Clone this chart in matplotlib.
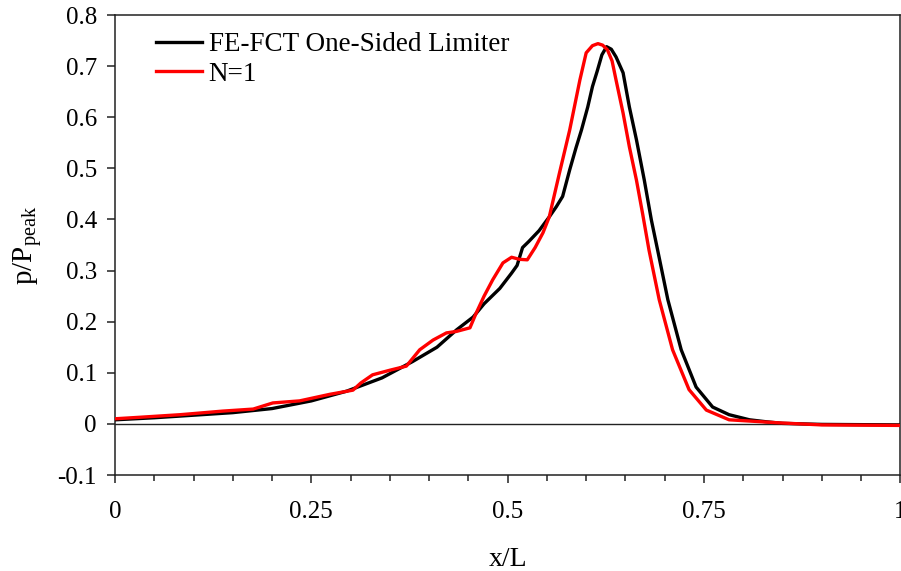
import matplotlib
matplotlib.use("Agg")
import matplotlib.pyplot as plt
from matplotlib.ticker import MultipleLocator

# ---- data ----
x_fct = [0, 0.05, 0.1, 0.15, 0.2, 0.25, 0.295, 0.34, 0.379, 0.41, 0.435, 0.456, 0.47, 0.49,
         0.505, 0.512, 0.519, 0.527, 0.54, 0.553, 0.562, 0.57, 0.579, 0.587, 0.594, 0.602,
         0.608, 0.614, 0.620, 0.626, 0.632, 0.638, 0.647, 0.655, 0.664, 0.674, 0.683, 0.691,
         0.704, 0.721, 0.74, 0.761, 0.782, 0.808, 0.83, 0.85, 0.9, 1.0]
y_fct = [0.008, 0.012, 0.017, 0.022, 0.030, 0.045, 0.064, 0.090, 0.122, 0.150, 0.184, 0.209,
         0.235, 0.265, 0.295, 0.31, 0.345, 0.357, 0.378, 0.405, 0.425, 0.445, 0.497, 0.54,
         0.575, 0.62, 0.66, 0.69, 0.722, 0.738, 0.733, 0.718, 0.687, 0.62, 0.556, 0.477,
         0.399, 0.34, 0.243, 0.145, 0.072, 0.033, 0.018, 0.008, 0.004, 0.001, -0.001, -0.002]

x_n1 = [0, 0.032, 0.083, 0.137, 0.176, 0.201, 0.235, 0.274, 0.303, 0.313, 0.328, 0.35, 0.371,
        0.388, 0.405, 0.422, 0.435, 0.452, 0.46, 0.47, 0.481, 0.494, 0.505, 0.515, 0.525,
        0.535, 0.545, 0.553, 0.566, 0.579, 0.592, 0.600, 0.608, 0.615, 0.621, 0.627, 0.633,
        0.638, 0.647, 0.655, 0.664, 0.672, 0.680, 0.693, 0.710, 0.731, 0.753, 0.782, 0.846,
        0.9, 1.0]
y_n1 = [0.01, 0.013, 0.018, 0.025, 0.029, 0.041, 0.045, 0.058, 0.066, 0.08, 0.096, 0.105,
        0.113, 0.145, 0.164, 0.178, 0.181, 0.188, 0.217, 0.25, 0.282, 0.315, 0.326, 0.322,
        0.321, 0.345, 0.374, 0.405, 0.491, 0.575, 0.673, 0.726, 0.740, 0.744, 0.741, 0.732,
        0.71, 0.673, 0.608, 0.542, 0.477, 0.41, 0.34, 0.243, 0.145, 0.067, 0.027, 0.008,
        0.002, -0.002, -0.003]

labels = ["FE-FCT One-Sided Limiter", "N=1"]
x_ticks = [0, 0.25, 0.5, 0.75, 1]
x_ticklabels = ["0", "0.25", "0.5", "0.75", "1"]
y_ticks = [-0.1, 0, 0.1, 0.2, 0.3, 0.4, 0.5, 0.6, 0.7, 0.8]
y_ticklabels = ["-0.1", "0", "0.1", "0.2", "0.3", "0.4", "0.5", "0.6", "0.7", "0.8"]

# ---- style ----
plt.rcParams['font.family'] = ['Liberation Serif', 'DejaVu Serif']
plt.rcParams['mathtext.fontset'] = 'custom'
plt.rcParams['mathtext.rm'] = 'Liberation Serif'
plt.rcParams['mathtext.it'] = 'Liberation Serif'

fig = plt.figure(figsize=(9.01, 5.71), dpi=100)
W, H = 901, 571
L, R, T, B = 115, 900.3, 15, 475
ax = fig.add_axes([L / W, (H - B) / H, (R - L) / W, (B - T) / H])

ax.axhline(0, color='#222222', lw=1.0, zorder=1)
ax.plot(x_fct, y_fct, color='black', lw=2.4, label=labels[0], zorder=3)
ax.plot(x_n1, y_n1, color='#ff0000', lw=2.4, label=labels[1], zorder=4)

ax.set_xlim(0, 1)
ax.set_ylim(-0.1, 0.8)
ax.set_xticks(x_ticks)
ax.set_xticklabels(x_ticklabels)
ax.set_yticks(y_ticks)
ax.set_yticklabels(y_ticklabels)
ax.xaxis.set_minor_locator(MultipleLocator(0.05))

for s in ax.spines.values():
    s.set_color('#222222')
    s.set_linewidth(1.1)

ax.tick_params(axis='x', which='major', direction='out', length=6, width=1.1,
               labelsize=18, pad=13, colors='#222222', labelcolor='black')
ax.tick_params(axis='x', which='minor', direction='out', length=4, width=1.1,
               colors='#222222')
ax.tick_params(axis='y', which='major', direction='out', length=6, width=1.1,
               labelsize=18, pad=7, colors='#222222', labelcolor='black')
ax.tick_params(top=False, right=False)

ax.set_xlabel("x/L", fontsize=20, labelpad=17)
ax.set_ylabel(r"p/P$_{\rm peak}$", fontsize=21, labelpad=10)

leg = ax.legend(loc='upper left', bbox_to_anchor=(0.052, 0.962), frameon=False,
                fontsize=19.5, handlelength=1.7, handletextpad=0.25, labelspacing=0.15,
                borderaxespad=0, borderpad=0)

fig.savefig("out.png", dpi=100)
